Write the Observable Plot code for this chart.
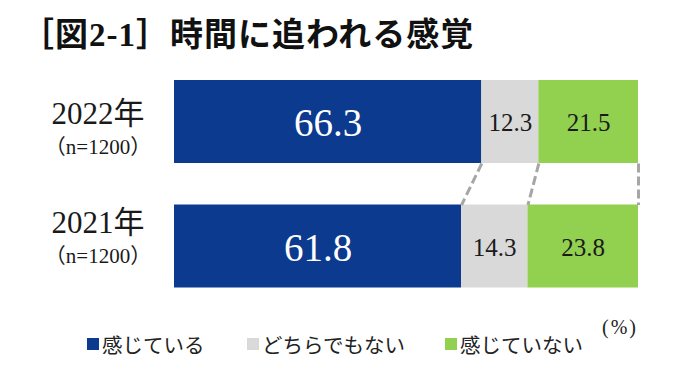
<!DOCTYPE html>
<html>
<head>
<meta charset="utf-8">
<script src="https://cdn.jsdelivr.net/npm/d3@7"></script>
<script src="https://cdn.jsdelivr.net/npm/@observablehq/plot@0.6"></script>
<style>
html, body { margin: 0; padding: 0; background: #fff; }
#root { position: relative; width: 680px; height: 380px; overflow: hidden; background: #fff; }
#title { position: absolute; left: 21px; top: 15px; font-weight: bold; font-size: 33px; line-height: 40px; letter-spacing: 1px;
  font-family: "Liberation Serif", "Noto Sans CJK JP", serif; white-space: nowrap; color: #111; }
#chart { position: absolute; left: 0; top: 70px; }
#legend { position: absolute; left: 0; top: 334px; width: 680px; height: 20px;
  font-family: "Noto Sans CJK JP", sans-serif; font-size: 20.5px; line-height: 20px; color: #222; }
.item { position: absolute; top: 0; display: flex; align-items: center; gap: 3px; white-space: nowrap; }
.sw { width: 12px; height: 12px; }
#unit { position: absolute; right: 42px; top: 316px; font-family: "Liberation Serif", serif; font-size: 20px; letter-spacing: 2px; color: #222; }
</style>
</head>
<body>
<div id="root">
  <div id="title"></div>
  <div id="chart"></div>
  <div id="legend"></div>
  <div id="unit"></div>
</div>
<script>
const titleText = "［図2-1］時間に追われる感覚";
const years = ["2022年", "2021年"];
const sampleSizes = ["（n=1200）", "（n=1200）"];
const categories = ["感じている", "どちらでもない", "感じていない"];
const values2022 = [66.3, 12.3, 21.5];
const values2021 = [61.8, 14.3, 23.8];
const colors = ["#0B3A8E", "#D9D9D9", "#92D050"];
const unitLabel = "(%)";

document.getElementById("title").textContent = titleText;
document.getElementById("unit").textContent = unitLabel;

const legend = document.getElementById("legend");
const legendLeft = [87, 247, 445];
categories.forEach((c, i) => {
  const item = document.createElement("div");
  item.className = "item";
  item.style.left = legendLeft[i] + "px";
  const sw = document.createElement("div");
  sw.className = "sw";
  sw.style.background = colors[i];
  const t = document.createElement("span");
  t.textContent = c;
  item.appendChild(sw);
  item.appendChild(t);
  legend.appendChild(item);
});

// build 100%-stacked rows
const series = [values2022, values2021];
const rows = [];
series.forEach((vals, r) => {
  const total = d3.sum(vals);
  let cum = 0;
  vals.forEach((v, c) => {
    rows.push({year: years[r], row: r, cat: categories[c], ci: c, value: v,
      x1: cum / total * 100, x2: (cum + v) / total * 100});
    cum += v;
  });
});
const links = categories.map((c, i) => ({
  xa: rows.find(d => d.row === 0 && d.ci === i).x2,
  xb: rows.find(d => d.row === 1 && d.ci === i).x2
}));

const rowTop = r => r * 1.5;
const yearDy = [2, -14];
const sampleDy = [32, 16];
const serifCJK = '"Liberation Serif", "Noto Sans CJK JP", serif';

const labelMarks = [];
years.forEach((y, r) => {
  labelMarks.push(Plot.text([y], {frameAnchor: "left", y: () => rowTop(r) + 0.5, text: d => d,
    dx: -76.5, dy: yearDy[r], textAnchor: "middle", lineAnchor: "bottom",
    fontSize: 31, fontFamily: serifCJK, fill: "#1a1a1a"}));
  labelMarks.push(Plot.text([sampleSizes[r]], {frameAnchor: "left", y: () => rowTop(r) + 0.5, text: d => d,
    dx: -76.5, dy: sampleDy[r], textAnchor: "middle", lineAnchor: "bottom",
    fontSize: 21, fontFamily: serifCJK, fill: "#1a1a1a"}));
});

const chart = Plot.plot({
  width: 680,
  height: 230,
  marginLeft: 174,
  marginRight: 42,
  marginTop: 10,
  marginBottom: 12.5,
  x: {domain: [0, 100], axis: null},
  y: {domain: [0, 2.5], reverse: true, axis: null},
  color: {domain: categories, range: colors},
  style: {background: "#fff"},
  marks: [
    Plot.rect(rows, {x1: "x1", x2: "x2", y1: d => rowTop(d.row), y2: d => rowTop(d.row) + 1, fill: "cat"}),
    Plot.link(links, {x1: "xa", y1: () => 1, x2: "xb", y2: () => 1.5,
      stroke: "#A6A6A6", strokeWidth: 3, strokeDasharray: "9,4"}),
    Plot.text(rows.filter(d => d.ci === 0), {x: d => (d.x1 + d.x2) / 2, y: d => rowTop(d.row) + 0.5,
      text: d => d.value.toFixed(1), fill: "white", fontSize: 39, fontFamily: "Liberation Serif", dy: 2}),
    Plot.text(rows.filter(d => d.ci > 0), {x: d => (d.x1 + d.x2) / 2, y: d => rowTop(d.row) + 0.5,
      text: d => d.value.toFixed(1), fill: "#1a1a1a", fontSize: 25, fontFamily: "Liberation Serif", dy: 1}),
    ...labelMarks
  ]
});
document.getElementById("chart").appendChild(chart);
</script>
</body>
</html>
